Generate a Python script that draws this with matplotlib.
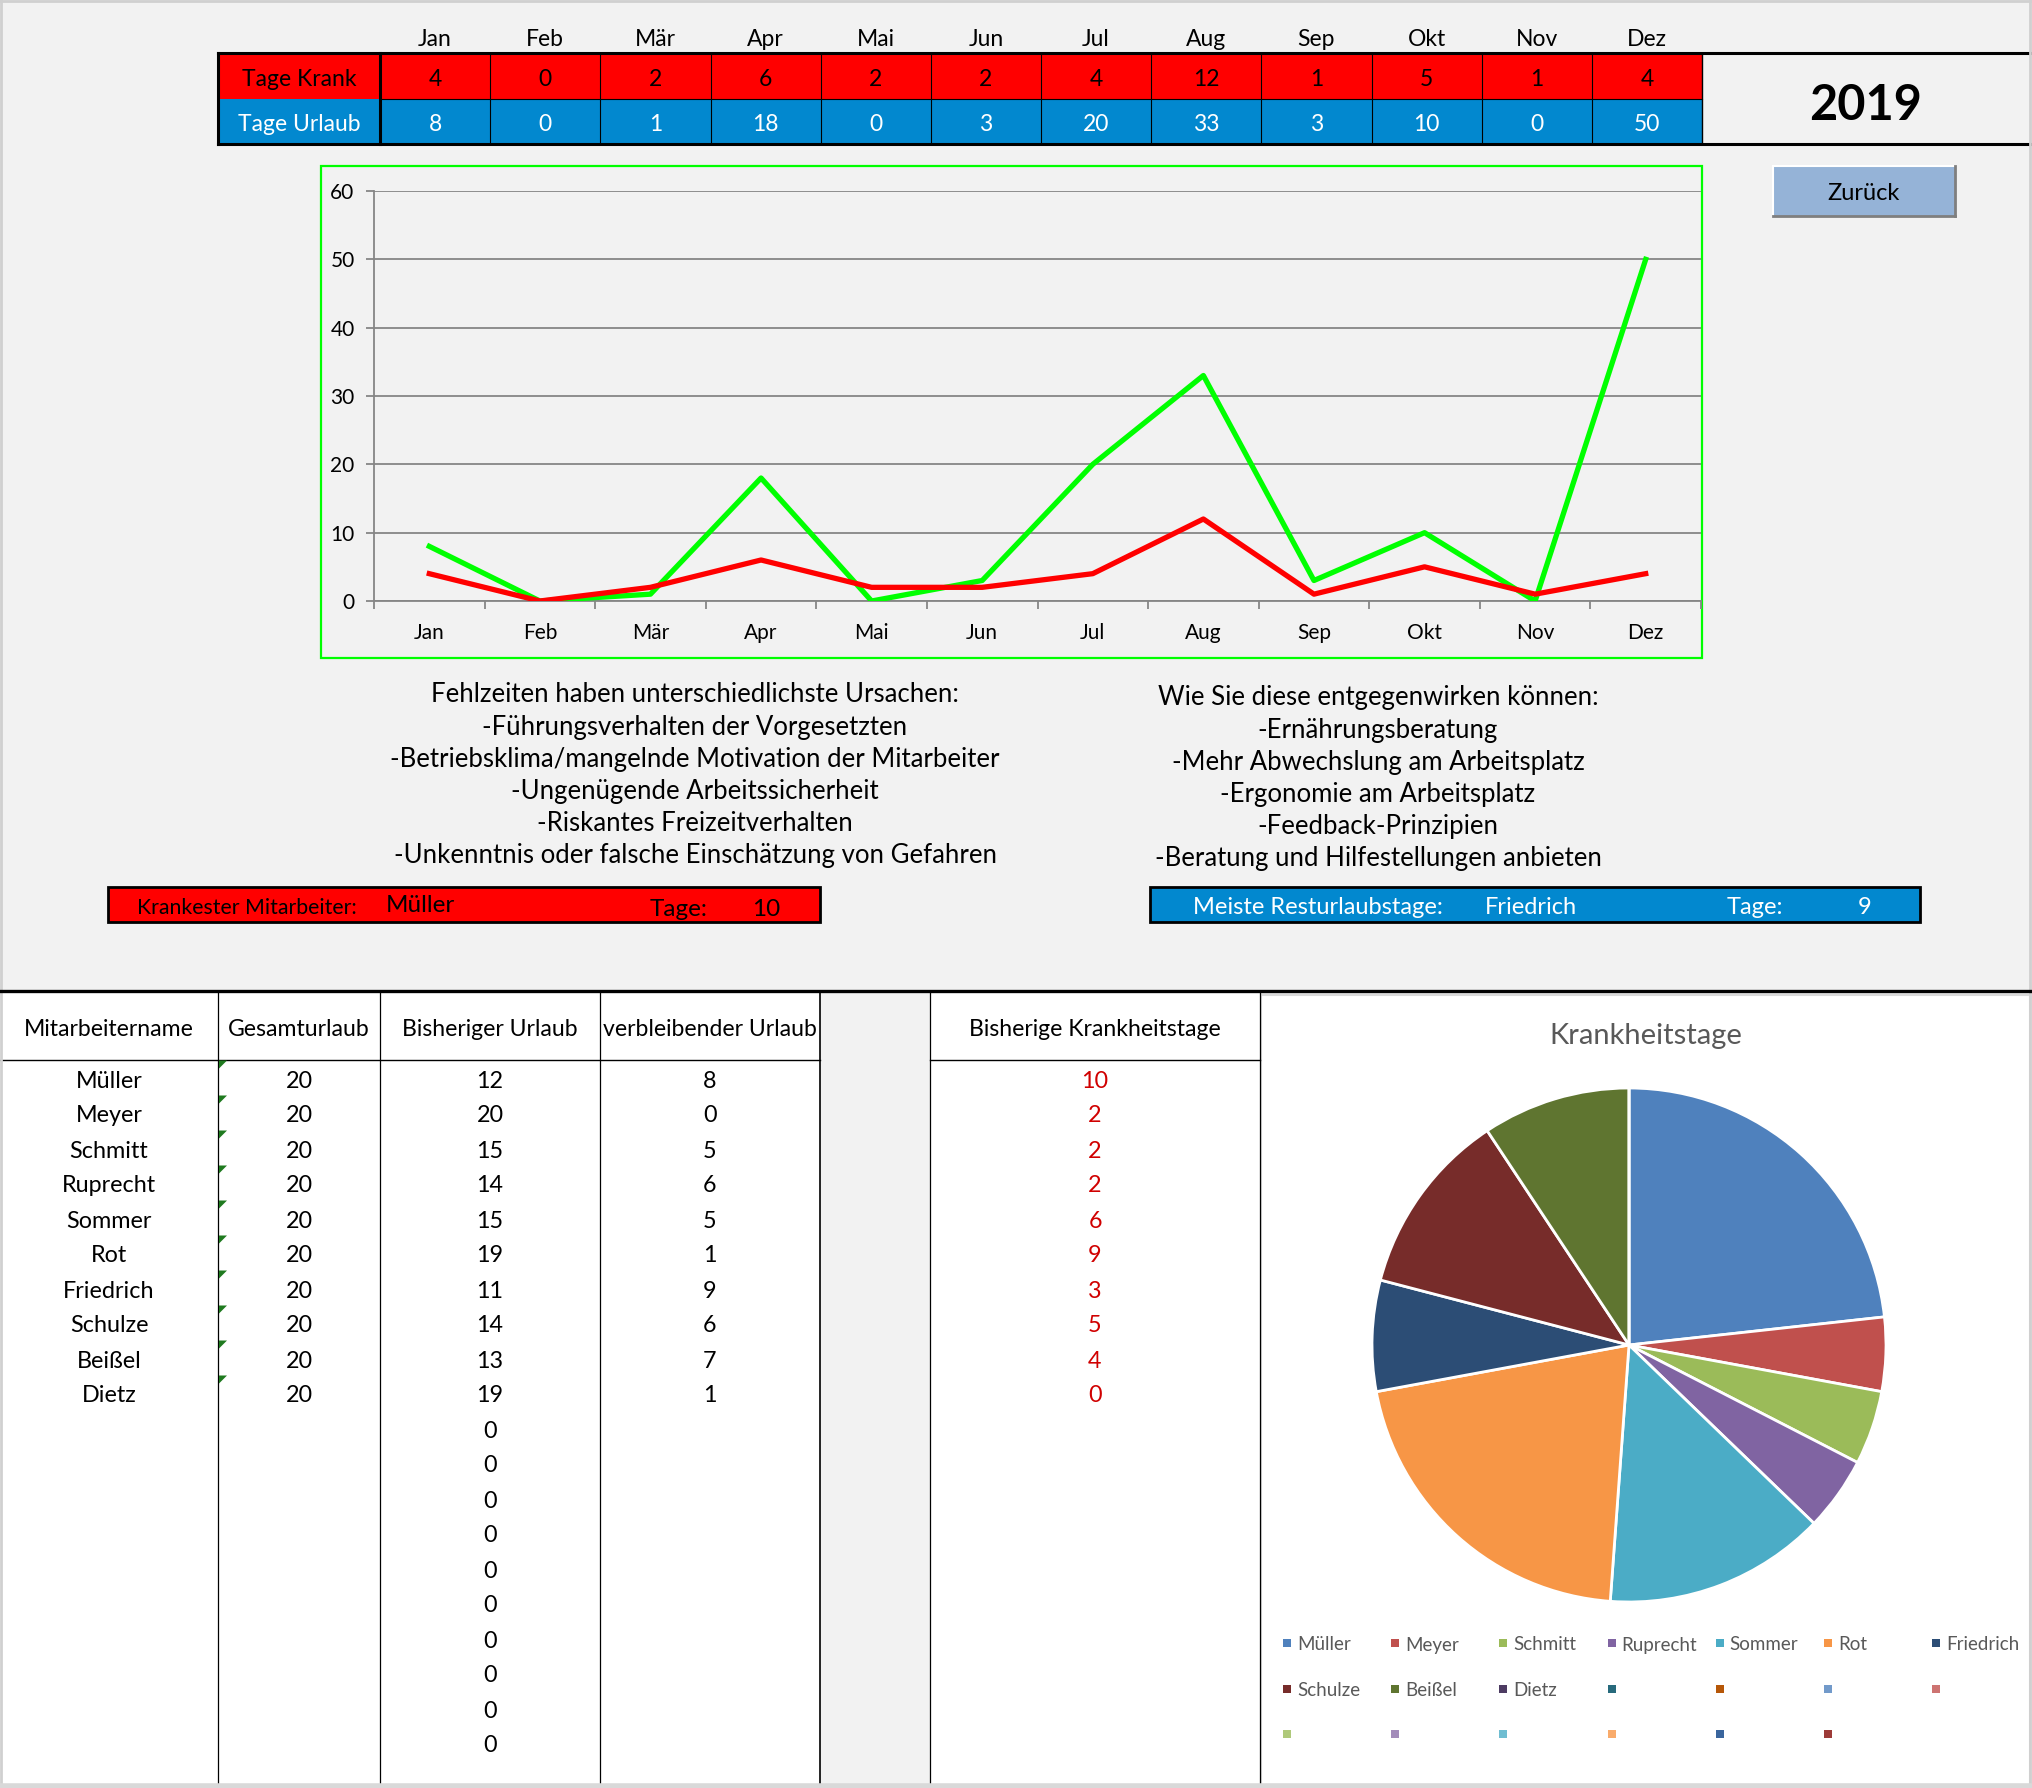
import matplotlib
matplotlib.use("Agg")
import matplotlib.pyplot as plt
from matplotlib.patches import Rectangle, Polygon

plt.rcParams['font.family'] = ['Lato', 'DejaVu Sans']

# --- Daten ---
monate = ["Jan", "Feb", "Mär", "Apr", "Mai", "Jun", "Jul", "Aug", "Sep", "Okt", "Nov", "Dez"]
tage_krank = [4, 0, 2, 6, 2, 2, 4, 12, 1, 5, 1, 4]
tage_urlaub = [8, 0, 1, 18, 0, 3, 20, 33, 3, 10, 0, 50]
jahr = "2019"

mitarbeiter = ["Müller", "Meyer", "Schmitt", "Ruprecht", "Sommer", "Rot",
               "Friedrich", "Schulze", "Beißel", "Dietz"]
gesamturlaub = [20, 20, 20, 20, 20, 20, 20, 20, 20, 20]
bisheriger_urlaub = [12, 20, 15, 14, 15, 19, 11, 14, 13, 19]
leere_zeilen_urlaub = [0, 0, 0, 0, 0, 0, 0, 0, 0, 0]
verbleibender_urlaub = [8, 0, 5, 6, 5, 1, 9, 6, 7, 1]
krankheitstage = [10, 2, 2, 2, 6, 9, 3, 5, 4, 0]

tabellen_kopf = ["Mitarbeitername", "Gesamturlaub", "Bisheriger Urlaub", "verbleibender Urlaub"]

ursachen = ["Fehlzeiten haben unterschiedlichste Ursachen:",
            "-Führungsverhalten der Vorgesetzten",
            "-Betriebsklima/mangelnde Motivation der Mitarbeiter",
            "-Ungenügende Arbeitssicherheit",
            "-Riskantes Freizeitverhalten",
            "-Unkenntnis oder falsche Einschätzung von Gefahren"]
massnahmen = ["Wie Sie diese entgegenwirken können:",
              "-Ernährungsberatung",
              "-Mehr Abwechslung am Arbeitsplatz",
              "-Ergonomie am Arbeitsplatz",
              "-Feedback-Prinzipien",
              "-Beratung und Hilfestellungen anbieten"]

pie_farben = ["#4F81BD", "#C0504D", "#9BBB59", "#8064A2", "#4BACC6", "#F79646",
              "#2C4D75", "#772C2A", "#5F7530", "#4D3B62", "#276A7C", "#B65708",
              "#729ACA", "#CD7371", "#AFC97A", "#A38CBA", "#6FBDD1", "#F9AB6B",
              "#3A659D", "#9D3B38"]

ROT = "#FF0000"
BLAU = "#0288CF"
GRAU_BG = "#F2F2F2"
DY = 3  # Lato sitzt etwas hoeher als Calibri

W, H = 2032, 1788
fig = plt.figure(figsize=(W / 100, H / 100), dpi=100, facecolor=GRAU_BG)
bg = fig.add_axes([0, 0, 1, 1])
bg.set_xlim(0, W)
bg.set_ylim(H, 0)
bg.axis('off')


def rect(x0, y0, x1, y1, fc='none', ec='none', lw=0, z=1):
    bg.add_patch(Rectangle((x0, y0), x1 - x0, y1 - y0, facecolor=fc,
                           edgecolor=ec, linewidth=lw, zorder=z))


def txt(x, y, s, **kw):
    kw.setdefault('ha', 'center')
    kw.setdefault('va', 'center')
    bg.text(x, y + DY, s, **kw)


# --- Tabelle oben ---
lab_x0, lab_x1 = 218, 380
col_w = (1702 - 380) / 12
r0, r1, r2 = 53, 99, 144
rect(lab_x0, r0, 1702, r1, fc=ROT)
rect(lab_x0, r1, 1702, r2, fc=BLAU)
for i, m in enumerate(monate):
    cx = lab_x1 + (i + 0.5) * col_w
    txt(cx, 37, m, fontsize=16.5)
    txt(cx, (r0 + r1) / 2, str(tage_krank[i]), fontsize=16.5)
    txt(cx, (r1 + r2) / 2, str(tage_urlaub[i]), fontsize=16.5, color='white')
    if i > 0:
        bg.plot([lab_x1 + i * col_w] * 2, [r0, r2], color='black', lw=0.8)
bg.plot([lab_x1, 1702], [r1, r1], color='black', lw=0.8)
txt((lab_x0 + lab_x1) / 2, (r0 + r1) / 2, "Tage Krank", fontsize=16.5)
txt((lab_x0 + lab_x1) / 2, (r1 + r2) / 2, "Tage Urlaub", fontsize=16.5, color='white')
bg.plot([lab_x0, W], [r0, r0], color='black', lw=2.2)
bg.plot([lab_x0, W], [r2, r2], color='black', lw=2.2)
bg.plot([lab_x0, lab_x0], [r0, r2], color='black', lw=2.2)
bg.plot([lab_x1, lab_x1], [r0, r2], color='black', lw=2.2)
bg.plot([1702, 1702], [r0, r2], color='black', lw=1.0)
txt(1866, 103, jahr, fontsize=35, fontweight='bold')

# --- Button ---
rect(1773, 166, 1955, 216, fc="#95B3D7")
bg.plot([1773, 1955], [166, 166], color='white', lw=1.5)
bg.plot([1773, 1773], [166, 216], color='white', lw=1.5)
bg.plot([1773, 1955], [216, 216], color='#7F7F7F', lw=2)
bg.plot([1955, 1955], [166, 216], color='#7F7F7F', lw=2)
txt(1864, 191, "Zurück", fontsize=17)

# --- Liniendiagramm ---
rect(321, 166, 1702, 658, ec='#00FF00', lw=1.6, z=0.5)
ax = fig.add_axes([374 / W, 1 - 601 / H, (1701 - 374) / W, (601 - 191) / H])
ax.patch.set_visible(False)
x = list(range(len(monate)))
ax.plot(x, tage_urlaub, color='#00FF00', lw=3.8, zorder=3)
ax.plot(x, tage_krank, color='#FF0000', lw=3.8, zorder=4)
ax.set_xlim(-0.5, len(monate) - 0.5)
ax.set_ylim(0, 60)
ax.set_yticks(range(0, 61, 10))
ax.set_xticks(x)
ax.set_xticklabels(monate)
ax.set_xticks([i - 0.5 for i in range(len(monate) + 1)], minor=True)
ax.yaxis.grid(True, color='#868686', lw=1.3)
ax.set_axisbelow(True)
for s in ['top', 'right']:
    ax.spines[s].set_visible(False)
for s in ['left', 'bottom']:
    ax.spines[s].set_color('#868686')
    ax.spines[s].set_linewidth(1.3)
ax.tick_params(axis='x', which='major', length=0, pad=16, labelsize=15)
ax.tick_params(axis='x', which='minor', length=6, color='#868686', width=1.3)
ax.tick_params(axis='y', length=6, color='#868686', width=1.3, pad=8, labelsize=15)

# --- Texte ---
for i, t in enumerate(ursachen):
    txt(695, 692 + i * 32.1, t, fontsize=18.5)
for i, t in enumerate(massnahmen):
    txt(1378, 695 + i * 32.1, t, fontsize=18.5)

# --- Info-Boxen ---
k_idx = krankheitstage.index(max(krankheitstage))
u_idx = verbleibender_urlaub.index(max(verbleibender_urlaub))
rect(108, 887, 820, 922, fc=ROT, ec='black', lw=2)
txt(137, 905, "Krankester Mitarbeiter:", ha='left', fontsize=15.3)
txt(386, 903, mitarbeiter[k_idx], ha='left', fontsize=17.5)
txt(650, 906, "Tage:", ha='left', fontsize=17.5)
txt(766, 906, str(krankheitstage[k_idx]), fontsize=17.5)
rect(1150, 887, 1920, 922, fc=BLAU, ec='black', lw=2)
txt(1193, 904, "Meiste Resturlaubstage:", ha='left', fontsize=17, color='white')
txt(1485, 904, mitarbeiter[u_idx], ha='left', fontsize=17, color='white')
txt(1727, 904, "Tage:", ha='left', fontsize=17, color='white')
txt(1865, 904, str(verbleibender_urlaub[u_idx]), fontsize=17, color='white')

# --- Tabelle unten ---
rect(0, 993, 820, 1786, fc='white')
rect(930, 993, 1261, 1786, fc='white')
rect(1261, 995, 2030, 1785, fc='white', ec='#D9D9D9', lw=1.5)
bg.plot([0, W], [991, 991], color='black', lw=2.4, zorder=3)
spalten = [0, 218, 380, 600, 820]
for j, k in enumerate(tabellen_kopf):
    txt((spalten[j] + spalten[j + 1]) / 2, 1026, k, fontsize=16.6)
txt((930 + 1260) / 2, 1026, "Bisherige Krankheitstage", fontsize=16.6)
bg.plot([0, 820], [1060, 1060], color='black', lw=1)
bg.plot([930, 1260], [1060, 1060], color='black', lw=1)
for xv in [218, 380, 600, 820, 930, 1260]:
    bg.plot([xv, xv], [993, 1786], color='black', lw=1.2 if xv == 820 else 0.9)

zeile_h = 35
for i, name in enumerate(mitarbeiter):
    y = 1078 + i * zeile_h
    txt(109, y, name, fontsize=16.8)
    txt(299, y, str(gesamturlaub[i]), fontsize=16.8)
    txt(490, y, str(bisheriger_urlaub[i]), fontsize=16.8)
    txt(710, y, str(verbleibender_urlaub[i]), fontsize=16.8)
    txt(1095, y, str(krankheitstage[i]), fontsize=16.8, color='#D00000')
    top = y - 17.5
    bg.add_patch(Polygon([(219, top), (227, top), (219, top + 8)], closed=True,
                         facecolor='#1F7A1F', edgecolor='none', zorder=4))
for i, v in enumerate(leere_zeilen_urlaub):
    y = 1078 + (len(mitarbeiter) + i) * zeile_h
    txt(490, y, str(v), fontsize=16.8)

# --- Kreisdiagramm ---
txt(1646, 1033, "Krankheitstage", fontsize=21, color='#595959')
r_px = 257
pax = fig.add_axes([(1629 - r_px) / W, 1 - (1345 + r_px) / H, 2 * r_px / W, 2 * r_px / H])
pax.pie(krankheitstage, colors=pie_farben[:len(krankheitstage)], startangle=90,
        counterclock=False, radius=1,
        wedgeprops=dict(edgecolor='white', linewidth=2))
pax.set_xlim(-1, 1)
pax.set_ylim(-1, 1)
pax.axis('off')

legende = mitarbeiter + [""] * len(leere_zeilen_urlaub)
for i, name in enumerate(legende):
    row, col = divmod(i, 7)
    lx = 1287 + col * 108.2
    ly = 1643 + row * 45.5
    bg.add_patch(Rectangle((lx - 4, ly - 4), 8, 8, facecolor=pie_farben[i], edgecolor='none', zorder=4))
    if name:
        txt(lx + 10, ly - 1, name, ha='left', fontsize=13.5, color='#595959')

# Rahmen
bg.plot([0, W], [1, 1], color='#D0D0D0', lw=2)
bg.plot([1, 1], [0, H], color='#D0D0D0', lw=2)
bg.plot([W - 2, W - 2], [0, H], color='#D0D0D0', lw=2)
bg.plot([0, W], [H - 2, H - 2], color='#D9D9D9', lw=4)

fig.savefig("out.png", dpi=100, facecolor=GRAU_BG)
